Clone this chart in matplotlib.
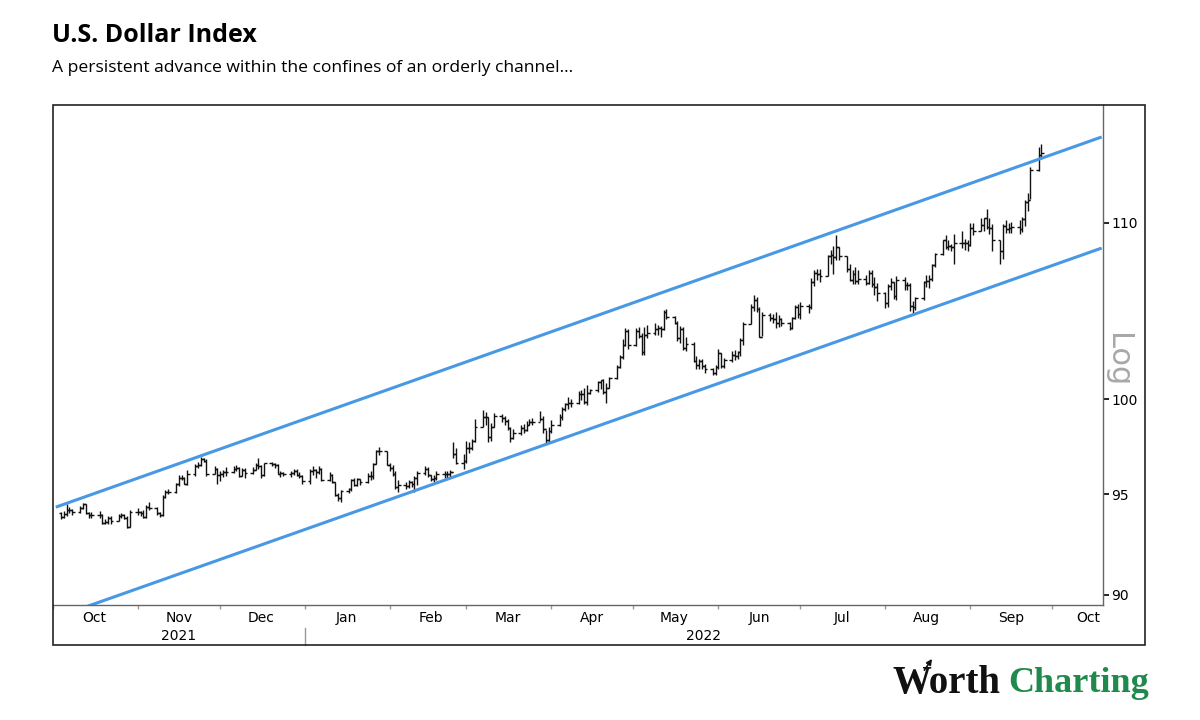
import pandas as pd
import matplotlib
matplotlib.use("Agg")
import matplotlib.pyplot as plt
import matplotlib.dates as mdates
from matplotlib.patches import Rectangle

# U.S. Dollar Index, daily bars (weekdays) 4 Oct 2021 - 27 Sep 2022
first_open = 94.04
close = [
    # Oct 2021
    93.83, 94.00, 94.22, 94.22, 94.08, 94.31, 94.52, 94.07, 93.97, 93.96,
    93.95, 93.55, 93.59, 93.78, 93.64, 93.88, 93.94, 93.79, 93.33, 94.12,
    # Nov
    94.08, 94.06, 93.87, 94.35, 94.32, 94.05, 93.96, 94.86, 95.15, 95.13, 95.55,
    95.86, 95.83, 95.55, 96.04, 96.49, 96.52, 96.85, 96.75, 96.05, 96.32, 95.99,
    # Dec
    96.05, 96.15, 96.16, 96.33, 96.36, 95.96, 96.26, 96.09, 96.27, 96.54, 96.48, 95.99,
    96.63, 96.57, 96.51, 96.07, 96.08, 96.04, 96.08, 96.20, 96.01, 95.96, 95.67,
    # Jan 2022
    96.21, 96.26, 96.18, 96.33, 95.73, 95.98, 95.62, 94.96, 94.80, 95.17, 95.27,
    95.74, 95.51, 95.77, 95.64, 95.93, 95.93, 96.58, 97.24, 97.26, 96.54,
    # Feb
    96.37, 96.03, 95.38, 95.48, 95.44, 95.63, 95.53, 95.82, 96.08, 96.29,
    95.98, 95.81, 95.84, 96.04, 96.03, 96.03, 96.17, 97.12, 96.62, 96.71,
    # Mar
    97.41, 97.39, 97.77, 98.51, 99.07, 99.05, 97.99, 98.51, 99.13, 99.01, 98.82, 98.44,
    97.95, 98.21, 98.49, 98.34, 98.64, 98.78, 98.80, 98.97, 98.39, 97.81, 98.31,
    # Apr
    98.63, 99.05, 99.49, 99.76, 99.78, 99.79, 100.29, 100.31, 99.85, 100.32, 100.50,
    100.94, 101.04, 100.40, 100.63, 101.17, 101.76, 102.33, 102.96, 103.76, 102.96,
    # May
    103.73, 103.47, 102.56, 103.54, 103.66, 103.89, 103.92, 103.87, 104.80, 104.56, 104.20,
    103.35, 103.84, 102.80, 103.02, 102.10, 101.86, 102.11, 101.82, 101.67, 101.44, 101.76,
    # Jun
    102.54, 101.79, 102.14, 102.42, 102.34, 102.56, 103.27, 104.15, 105.08, 105.49, 105.00,
    103.41, 104.68, 104.49, 104.43, 104.18, 104.44, 104.19, 103.94, 104.50, 105.10, 104.69,
    # Jul
    105.14, 105.12, 106.51, 107.03, 107.01, 106.90, 108.03, 108.07, 107.97, 108.57, 108.03,
    107.31, 106.67, 107.00, 106.59, 106.72, 106.46, 107.05, 106.44, 106.26, 105.90,
    # Aug
    105.35, 106.28, 106.51, 105.74, 106.62, 106.38, 106.36, 105.19, 105.13, 105.61, 106.52, 106.60,
    106.69, 107.50, 108.16, 108.95, 108.55, 108.60, 108.58, 108.80, 108.79, 108.77, 108.70,
    # Sep
    109.67, 109.53, 109.83, 110.25, 109.73, 109.68, 108.98, 108.30, 109.80, 109.60,
    109.70, 109.76, 109.62, 110.20, 111.25, 111.35, 113.19, 114.11, 114.18,
]
high = [
    94.12, 94.14, 94.50, 94.34, 94.28, 94.40, 94.56, 94.53, 94.09, 94.10,
    94.16, 93.99, 93.77, 93.88, 93.88, 93.98, 94.05, 94.00, 93.90, 94.20,
    94.30, 94.17, 94.20, 94.45, 94.60, 94.35, 94.10, 94.95, 95.25, 95.27, 95.60,
    95.98, 96.00, 95.90, 96.25, 96.55, 96.70, 96.94, 96.90, 96.83, 96.45, 96.39,
    96.22, 96.25, 96.40, 96.45, 96.50, 96.40, 96.35, 96.38, 96.40, 96.60, 96.91, 96.50,
    96.65, 96.70, 96.65, 96.55, 96.20, 96.15, 96.20, 96.30, 96.30, 96.15, 96.00,
    96.30, 96.45, 96.30, 96.45, 96.35, 96.15, 96.05, 95.65, 95.05, 95.25, 95.35,
    95.80, 95.85, 95.85, 95.80, 96.10, 96.20, 96.60, 97.30, 97.44, 97.25,
    96.60, 96.50, 96.20, 95.75, 95.65, 95.75, 95.70, 95.95, 96.20, 96.45,
    96.40, 96.00, 96.00, 96.20, 96.20, 96.20, 96.25, 97.74, 97.40, 97.10,
    97.80, 97.75, 97.90, 98.94, 99.42, 99.30, 99.05, 98.75, 99.29, 99.20, 99.10, 98.95,
    98.50, 98.40, 98.60, 98.70, 98.85, 98.95, 99.00, 99.35, 99.10, 98.35, 98.50,
    98.90, 99.20, 99.60, 99.80, 100.10, 100.00, 100.45, 100.50, 100.60, 100.75, 100.55,
    101.00, 101.05, 101.10, 100.90, 101.20, 101.85, 102.40, 103.30, 103.93, 103.85,
    103.94, 103.95, 103.65, 103.95, 104.07, 104.19, 104.10, 104.04, 104.93, 104.98, 104.60,
    104.30, 104.05, 103.95, 103.40, 103.15, 102.35, 102.20, 102.20, 101.95, 101.70, 101.85,
    102.75, 102.55, 102.25, 102.65, 102.70, 102.65, 103.35, 104.25, 105.30, 105.79, 105.70,
    105.10, 104.80, 104.75, 104.70, 104.80, 104.65, 104.50, 104.25, 104.55, 105.20, 105.25,
    105.40, 105.25, 106.75, 107.25, 107.30, 107.30, 108.10, 108.40, 108.60, 109.29, 108.55,
    108.05, 107.55, 107.20, 107.40, 107.20, 106.95, 107.20, 107.20, 106.80, 106.50,
    105.95, 106.40, 106.75, 106.55, 106.90, 106.80, 106.55, 106.45, 105.45, 105.70, 106.60, 106.95,
    106.95, 107.55, 108.20, 109.00, 109.27, 108.95, 108.75, 109.30, 109.48, 109.05, 109.00,
    109.99, 109.95, 110.28, 110.30, 110.79, 110.27, 109.90, 109.00, 109.93, 110.15,
    109.95, 110.05, 110.15, 110.35, 111.35, 111.75, 113.34, 114.58, 114.75,
]
low = [
    93.75, 93.80, 93.92, 94.07, 93.96, 94.03, 94.25, 93.98, 93.80, 93.79,
    93.82, 93.50, 93.50, 93.50, 93.50, 93.65, 93.78, 93.75, 93.28, 93.33,
    93.95, 93.90, 93.80, 93.80, 94.22, 93.95, 93.87, 93.90, 94.80, 95.00, 95.05,
    95.45, 95.72, 95.55, 95.50, 95.95, 96.35, 96.45, 96.70, 95.95, 96.05, 95.55,
    95.70, 95.90, 95.95, 96.12, 96.20, 95.90, 95.95, 95.85, 96.05, 96.25, 96.30, 95.85,
    95.95, 96.45, 96.35, 96.05, 95.90, 95.95, 95.90, 96.00, 95.95, 95.85, 95.55,
    95.55, 96.00, 95.85, 96.05, 95.70, 95.70, 95.60, 94.90, 94.65, 94.63, 95.05,
    95.20, 95.45, 95.45, 95.50, 95.60, 95.75, 95.80, 96.55, 97.05, 96.50,
    96.20, 95.95, 95.30, 95.14, 95.30, 95.35, 95.40, 95.15, 95.50, 96.00,
    95.90, 95.70, 95.65, 95.75, 95.85, 95.80, 95.90, 96.90, 96.55, 96.30,
    96.65, 97.15, 97.30, 97.75, 98.50, 98.60, 97.75, 97.80, 98.50, 98.80, 98.60, 98.35,
    97.73, 97.90, 98.10, 98.20, 98.30, 98.60, 98.60, 98.85, 98.20, 97.68, 97.75,
    98.20, 98.55, 98.90, 99.35, 99.50, 99.60, 99.75, 99.95, 99.75, 99.70, 100.30,
    100.40, 100.55, 100.30, 99.80, 100.60, 101.10, 101.70, 102.20, 102.90, 102.75,
    102.90, 103.35, 102.40, 102.40, 103.35, 103.55, 103.55, 103.40, 103.80, 104.40, 104.15,
    103.20, 103.10, 102.70, 102.65, 102.05, 101.65, 101.65, 101.65, 101.45, 101.30, 101.30,
    101.65, 101.70, 101.70, 102.05, 102.15, 102.20, 102.35, 103.00, 104.15, 104.90, 104.85,
    103.40, 103.50, 104.30, 104.20, 103.90, 104.00, 104.05, 103.80, 103.85, 104.40, 104.50,
    104.45, 104.75, 105.00, 106.30, 106.65, 106.55, 106.90, 107.60, 107.00, 107.80, 107.80,
    107.10, 106.60, 106.40, 106.40, 106.40, 106.35, 106.40, 106.25, 105.80, 105.45,
    105.05, 105.10, 106.05, 105.55, 105.50, 106.10, 106.10, 104.90, 104.65, 104.95, 105.50, 106.25,
    106.20, 106.60, 107.40, 108.10, 108.45, 108.40, 108.35, 107.60, 108.50, 108.40, 108.30,
    108.65, 109.25, 109.50, 109.50, 109.60, 109.30, 108.35, 107.58, 107.85, 109.40,
    109.40, 109.40, 109.30, 109.45, 109.80, 110.70, 111.40, 113.10, 113.85,
]

# channel drawn across the whole window
channel_dates = ["2021-10-02", "2022-10-19"]
upper_channel = [94.35, 115.2]
lower_channel = [88.9, 108.5]

month_labels = ["Oct", "Nov", "Dec", "Jan", "Feb", "Mar", "Apr",
                "May", "Jun", "Jul", "Aug", "Sep", "Oct"]
year_labels = ["2021", "2022"]
y_ticks = [90, 95, 100, 110]

dates = pd.bdate_range("2021-10-04", "2022-09-27")
assert len(dates) == len(close) == len(high) == len(low)
x = mdates.date2num(dates)
opens = [first_open] + close[:-1]

fig = plt.figure(figsize=(12, 7.2), dpi=100)
ax = fig.add_axes([0.0442, 0.1597, 0.8750, 0.6944])

bar_c = "#111111"
ax.vlines(x, low, high, color=bar_c, lw=1.0)
ax.hlines(opens, x - 1.0, x, color=bar_c, lw=1.0)
ax.hlines(close, x, x + 1.0, color=bar_c, lw=1.0)

cx = mdates.date2num(pd.to_datetime(channel_dates))
ax.plot(cx, upper_channel, color="#4898e4", lw=2.2, solid_capstyle="butt")
ax.plot(cx, lower_channel, color="#4898e4", lw=2.2, solid_capstyle="butt")

ax.set_yscale("log")
ax.set_ylim(89.5, 117.2)
ax.set_xlim(mdates.date2num(pd.Timestamp("2021-10-02 10:00")),
            mdates.date2num(pd.Timestamp("2022-10-19 12:00")))

ax.yaxis.tick_right()
ax.set_yticks(y_ticks)
ax.set_yticklabels([str(v) for v in y_ticks])
ax.yaxis.set_minor_locator(plt.NullLocator())
ax.tick_params(axis="y", direction="out", length=4, width=1.2, pad=2,
               labelsize=10, labelfontfamily="DejaVu Sans")

month_starts = pd.date_range("2021-10-01", "2022-10-01", freq="MS")
mid = month_starts + pd.Timedelta(days=15)
mid = mid.where(mid < pd.Timestamp("2022-10-01"), pd.Timestamp("2022-10-14"))
ax.set_xticks(mdates.date2num(month_starts))
ax.set_xticklabels([])
ax.set_xticks(mdates.date2num(mid), minor=True)
ax.set_xticklabels(month_labels, minor=True)
ax.tick_params(axis="x", which="major", direction="out", length=3,
               width=1, color="#999999")
ax.tick_params(axis="x", which="minor", length=0, pad=4,
               labelsize=10, labelfontfamily="DejaVu Sans")

for s in ["top", "left"]:
    ax.spines[s].set_visible(False)
for s in ["right", "bottom"]:
    ax.spines[s].set_linewidth(1)
    ax.spines[s].set_color("#666666")

# year row under the months
xl = ax.get_xlim()
jan1 = mdates.date2num(pd.Timestamp("2022-01-01"))
for lab, (a, b) in zip(year_labels, [(xl[0], jan1), (jan1, xl[1])]):
    ax.text((a + b) / 2, -0.062, lab, transform=ax.get_xaxis_transform(),
            ha="center", va="center", fontsize=10, family="DejaVu Sans")
ax.plot([jan1, jan1], [-0.045, -0.08], transform=ax.get_xaxis_transform(),
        color="#999999", lw=1, clip_on=False)

# outer frame around plot, date rows and value labels
fig.add_artist(Rectangle((0.0442, 0.1042), 0.9100, 0.7500, fill=False,
                         edgecolor="#222222", lw=1.2, transform=fig.transFigure))

fig.text(0.931, 0.50, "Log", rotation=270, ha="center", va="center",
         fontsize=22, color="#a8a8a8", family="DejaVu Sans")

fig.text(0.043, 0.950, "U.S. Dollar Index", fontsize=18, fontweight="bold",
         family="Open Sans", va="center")
fig.text(0.043, 0.906, "A persistent advance within the confines of an orderly channel...",
         fontsize=12.6, family="Open Sans", va="center")

fig.text(0.744, 0.051, "Worth", fontsize=28, fontweight="bold",
         family="Liberation Serif", color="#111111", va="center")
fig.text(0.840, 0.051, "Charting", fontsize=26, fontweight="bold",
         family="Liberation Serif", color="#1f8a4c", va="center")
fig.add_artist(plt.Annotation("", xy=(0.778, 0.088), xytext=(0.769, 0.066),
                              xycoords="figure fraction", textcoords="figure fraction",
                              arrowprops=dict(arrowstyle="-|>", color="#111111",
                                              lw=1.2, mutation_scale=8)))

fig.savefig("out.png", dpi=100, facecolor="white")
